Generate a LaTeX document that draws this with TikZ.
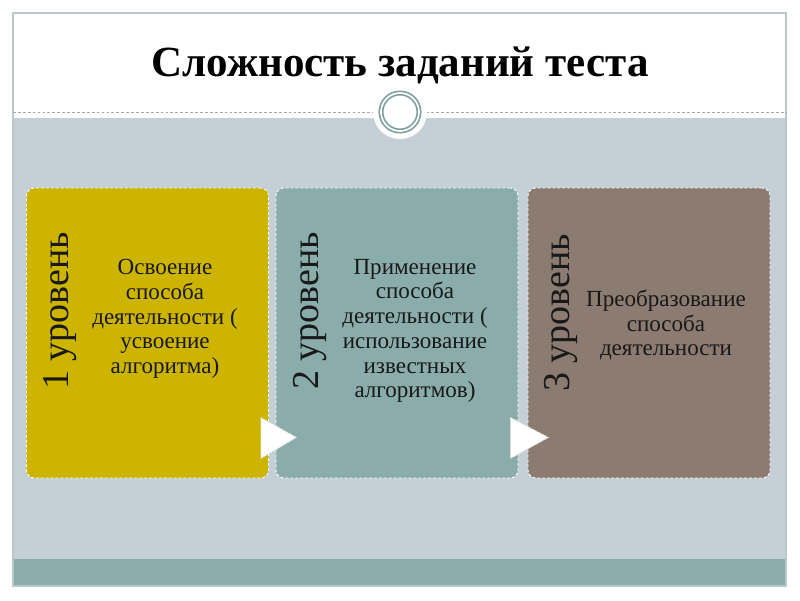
\documentclass[tikz,border=0pt]{standalone}
\usepackage{fontspec}
\setmainfont{Liberation Serif}
\usepackage{tikz}
\usetikzlibrary{positioning,calc}
\definecolor{slidegray}{HTML}{B9C9C9}
\definecolor{panelblue}{HTML}{C5D0D6}
\definecolor{bandteal}{HTML}{8AACAB}
\definecolor{lvlgold}{HTML}{CCB400}
\definecolor{lvlteal}{HTML}{8AACAB}
\definecolor{lvlbrown}{HTML}{8B7B70}
\definecolor{ringgray}{HTML}{7F9E9D}
\tikzset{
  level/.style={draw=white, dash pattern=on 2pt off 1.5pt, line width=0.6pt,
    rounded corners=0.2cm, minimum width=6.05cm, minimum height=7.25cm},
  lvlgoldbox/.style={level, fill=lvlgold},
  lvltealbox/.style={level, fill=lvlteal},
  lvlbrownbox/.style={level, fill=lvlbrown},
  lvlname/.style={rotate=90, font=\fontsize{27}{30}\selectfont, text=black!90},
  lvltext/.style={align=center, font=\fontsize{16.4}{17.6}\selectfont, text=black!90},
  pointer/.style={fill=white, draw=white!70!gray, dash pattern=on 1.5pt off 1pt, line width=0.5pt},
}

\begin{document}
\begin{tikzpicture}[x=0.025cm, y=-0.025cm]
    \useasboundingbox (0,0) rectangle (800,600);
    % slide background
    \fill[white] (0,0) rectangle (800,600);
    \fill[panelblue] (13,118) rectangle (786,559);
    \fill[bandteal] (13,559) rectangle (786,586);
    \draw[slidegray, line width=1.5pt] (13,13) rectangle (786,586);
    \draw[gray!70, dash pattern=on 2pt off 1.5pt, line width=0.5pt] (13,112) -- (786,112);
    \fill[white] (400,112) circle (27);
    \draw[ringgray, line width=1.2pt, double=white, double distance=1.2pt] (400,112) circle (19);
    \node[font=\fontsize{30.6}{34}\selectfont\bfseries] (title) at (400,65) {Сложность заданий теста};
    % levels
    \node[lvlgoldbox] (b1) at (147.5,333) {};
    \node[lvltealbox] (b2) at (397,333) {};
    \node[lvlbrownbox] (b3) at (649,333) {};
    \node[lvlname] (lvl1) at (60,311) {1 уровень};
    \node[lvlname] (lvl2) at (310,311) {2 уровень};
    \node[lvlname] (lvl3) at (561,313) {3 уровень};
    \node[lvltext] (txt1) at (165,319) {Освоение\\способа\\деятельности (\\усвоение\\алгоритма)};
    \node[lvltext] (txt2) at (415,331) {Применение\\способа\\деятельности (\\использование\\известных\\алгоритмов)};
    \node[lvltext] (txt3) at (666,325) {Преобразование\\способа\\деятельности};
    % pointers between levels
    \draw[pointer] ($(b1.south east)+(-8,-61)$) -- ($(b2.south west)+(21,-41)$) -- ($(b1.south east)+(-8,-20)$) -- cycle;
    \draw[pointer] ($(b2.south east)+(-8,-61)$) -- ($(b3.south west)+(21,-41)$) -- ($(b2.south east)+(-8,-20)$) -- cycle;
\end{tikzpicture}
\end{document}
